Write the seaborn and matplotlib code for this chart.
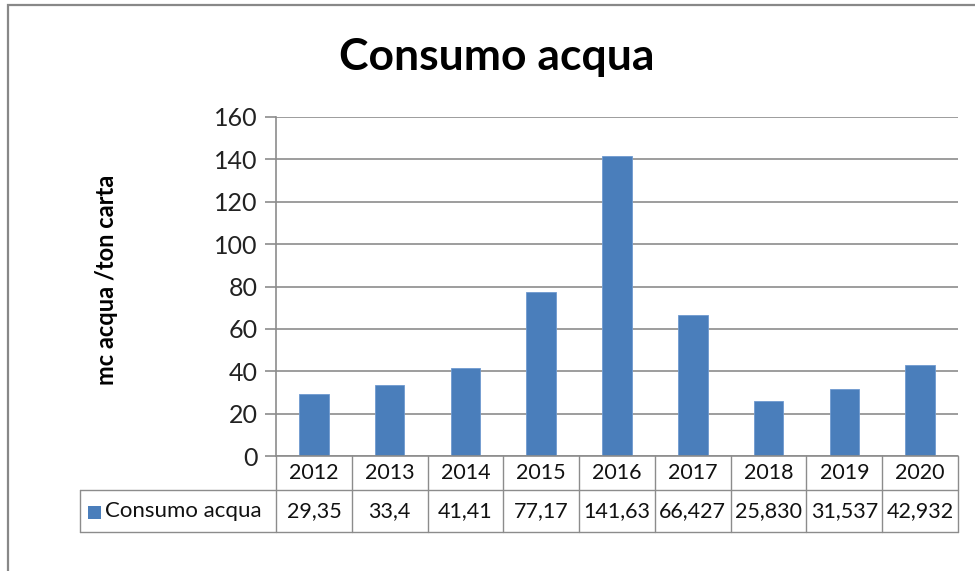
import seaborn as sns
import matplotlib.pyplot as plt
import matplotlib.transforms as mtransforms
from matplotlib.patches import Rectangle
import pandas as pd

years = ["2012", "2013", "2014", "2015", "2016", "2017", "2018", "2019", "2020"]
consumo = [29.35, 33.4, 41.41, 77.17, 141.63, 66.427, 25.830, 31.537, 42.932]
table_labels = ["29,35", "33,4", "41,41", "77,17", "141,63", "66,427", "25,830", "31,537", "42,932"]
series_name = "Consumo acqua"

df = pd.DataFrame({"anno": years, "valore": consumo})

sns.set_style("white")
plt.rcParams["font.family"] = ["Lato", "DejaVu Sans"]

W, H = 975, 571
fig = plt.figure(figsize=(W / 100, H / 100), dpi=100)
x0, x1, ytop, ybot = 276, 958, 117, 456
ax = fig.add_axes([x0 / W, (H - ybot) / H, (x1 - x0) / W, (ybot - ytop) / H])

blue = "#4A7EBB"
grid = "#8C8C8C"
sns.barplot(data=df, x="anno", y="valore", color=blue, width=0.39,
            saturation=1, ax=ax, edgecolor="#6f9ad0", linewidth=0.6)

ax.set_ylim(0, 160)
ax.set_xlim(-0.5, len(years) - 0.5)
ax.set_yticks(range(0, 161, 20))
ax.yaxis.grid(True, color=grid, linewidth=1.2)
ax.set_axisbelow(True)
for s in ["top", "right", "bottom"]:
    ax.spines[s].set_visible(False)
ax.spines["left"].set_color(grid)
ax.spines["left"].set_linewidth(1.2)
ax.tick_params(axis="y", left=True, length=8, width=1.2, color=grid,
               labelsize=18, labelcolor="#222222", pad=5)
ax.set_xticks([])
ax.set_xlabel("")
ax.set_ylabel("")

# data table under the plot
tr = mtransforms.blended_transform_factory(ax.transData, ax.transAxes)
axh = ybot - ytop
r1 = -(490 - ybot) / axh
r2 = -(532 - ybot) / axh
lx = -0.5 - (x0 - 80) / ((x1 - x0) / len(years))
lw = 1.0
for i in range(len(years) + 1):
    xb = i - 0.5
    ax.plot([xb, xb], [0, r2], color=grid, lw=lw, transform=tr, clip_on=False)
ax.plot([lx, len(years) - 0.5], [r1, r1], color=grid, lw=lw, transform=tr, clip_on=False)
ax.plot([lx, len(years) - 0.5], [r2, r2], color=grid, lw=lw, transform=tr, clip_on=False)
ax.plot([lx, lx], [r1, r2], color=grid, lw=lw, transform=tr, clip_on=False)
ax.plot([-0.5, len(years) - 0.5], [0, 0], color=grid, lw=1.2, transform=tr, clip_on=False)

for i, (yr, lab) in enumerate(zip(years, table_labels)):
    ax.text(i, r1 / 2, yr, ha="center", va="center", fontsize=15.5,
            color="#111111", transform=tr, clip_on=False)
    ax.text(i, (r1 + r2) / 2, lab, ha="center", va="center", fontsize=15.5,
            color="#111111", transform=tr, clip_on=False)

fig.patches.append(Rectangle((88 / W, (H - 519) / H), 13 / W, 13 / H,
                             transform=fig.transFigure, facecolor=blue,
                             edgecolor="none"))
fig.text(105 / W, (H - 511) / H, series_name, ha="left", va="center",
         fontsize=16, color="#111111")

fig.text(497 / W, (H - 57) / H, "Consumo acqua", ha="center", va="center",
         fontsize=32, fontweight="bold", color="#000000")
fig.text(106 / W, (H - 280) / H, "mc acqua /ton carta", ha="center", va="center",
         rotation=90, fontsize=17, fontweight="bold", color="#000000")

# outer chart frame
fig.patches.append(Rectangle((8 / W, -0.05), 1.2, (H - 5) / H + 0.05,
                             transform=fig.transFigure, facecolor="none",
                             edgecolor="#888888", linewidth=1.6))

fig.savefig("out.png", dpi=100)
